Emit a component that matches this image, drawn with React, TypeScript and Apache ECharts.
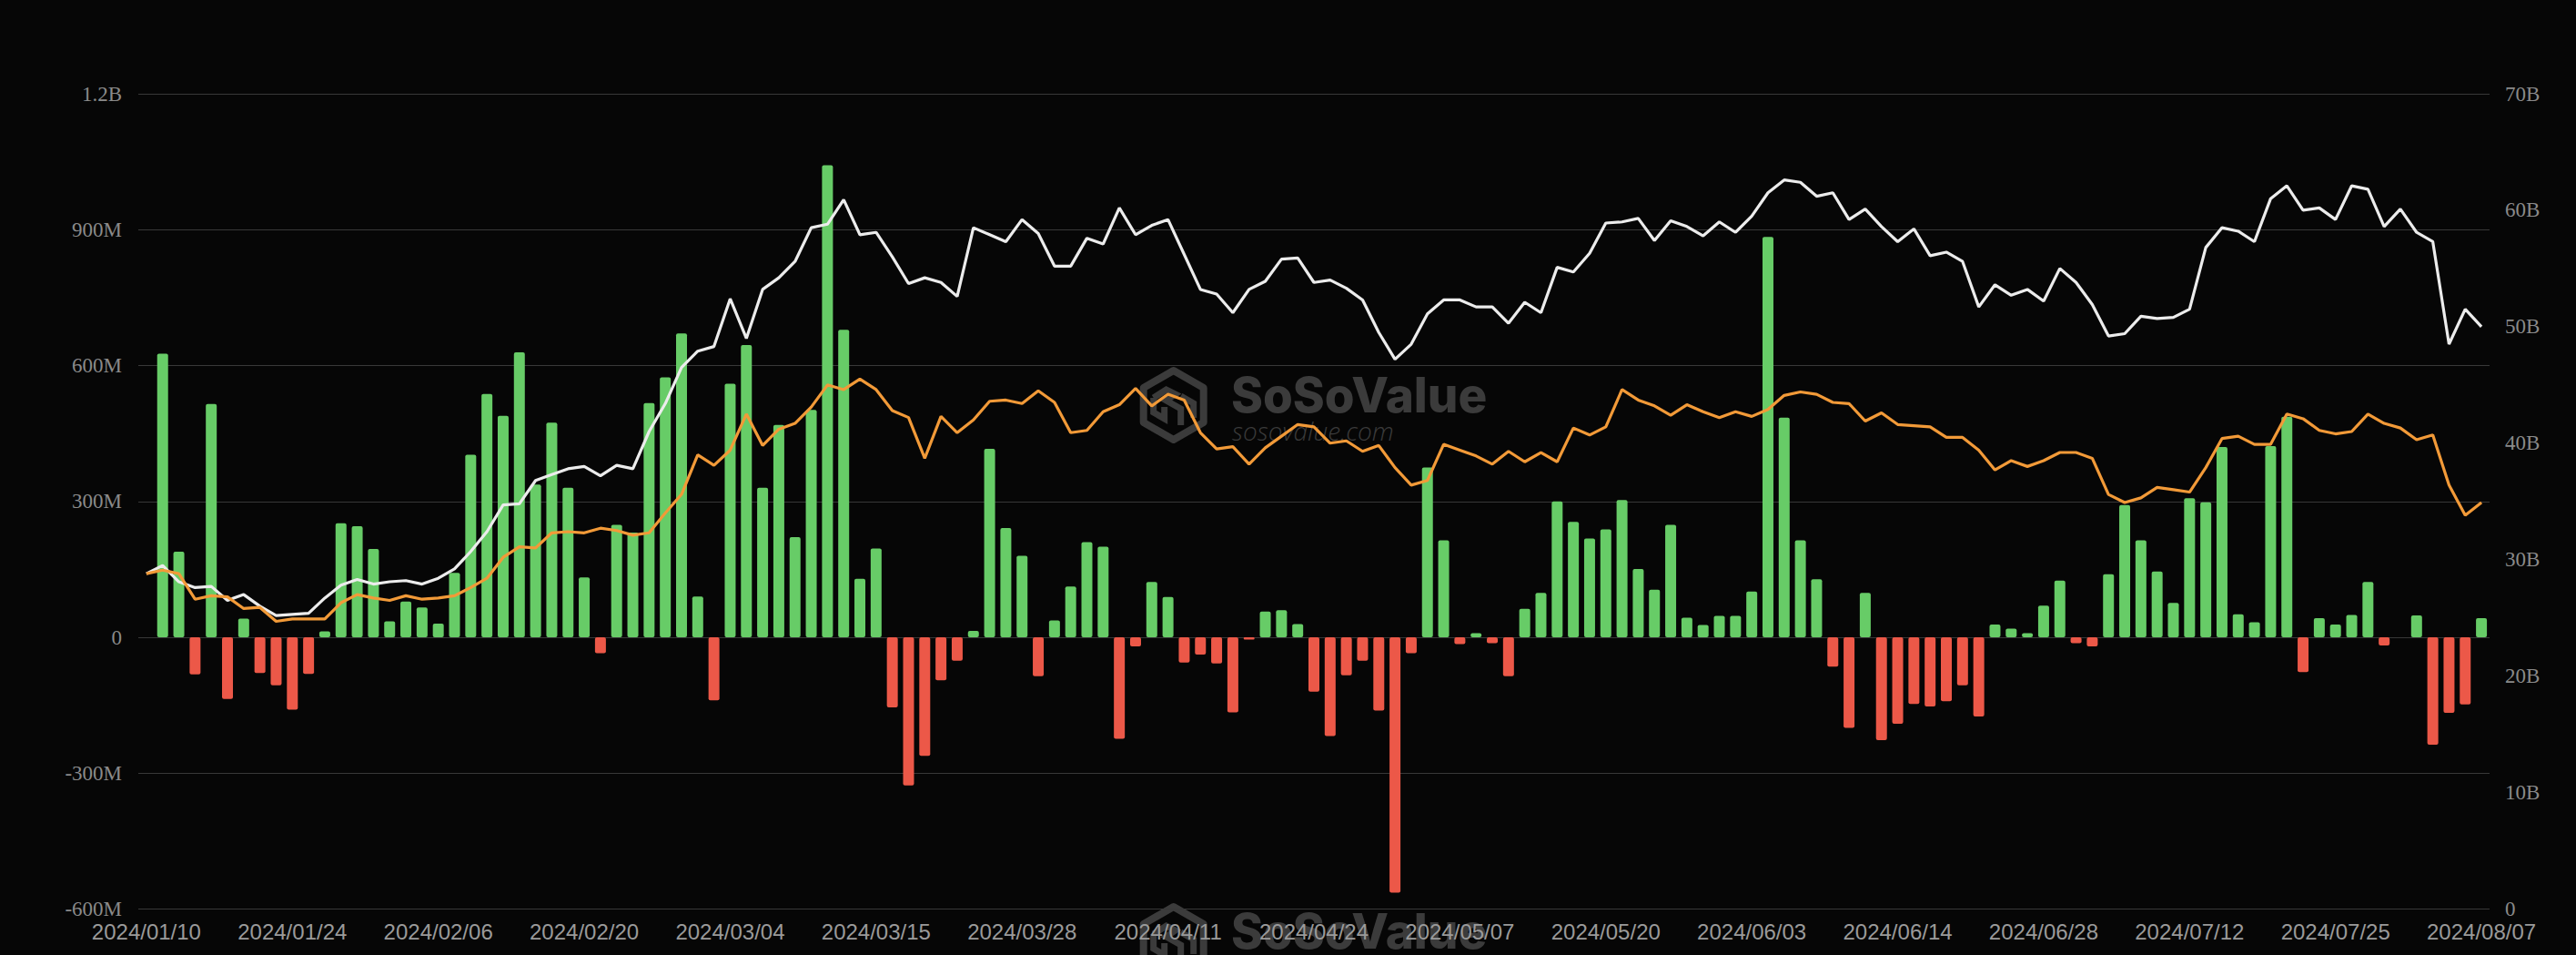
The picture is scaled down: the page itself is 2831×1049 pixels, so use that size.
import React, { useEffect, useRef } from "react";
import * as echarts from "echarts";

const dates: string[] = [
  "2024/01/10", "2024/01/11", "2024/01/12", "2024/01/16", "2024/01/17", "2024/01/18", "2024/01/19", "2024/01/22", "2024/01/23", "2024/01/24",
  "2024/01/25", "2024/01/26", "2024/01/29", "2024/01/30", "2024/01/31",
  "2024/02/01", "2024/02/02", "2024/02/05", "2024/02/06", "2024/02/07", "2024/02/08", "2024/02/09", "2024/02/12", "2024/02/13", "2024/02/14",
  "2024/02/15", "2024/02/16", "2024/02/20", "2024/02/21", "2024/02/22", "2024/02/23", "2024/02/26", "2024/02/27", "2024/02/28", "2024/02/29",
  "2024/03/01", "2024/03/04", "2024/03/05", "2024/03/06", "2024/03/07", "2024/03/08", "2024/03/11", "2024/03/12", "2024/03/13", "2024/03/14",
  "2024/03/15", "2024/03/18", "2024/03/19", "2024/03/20", "2024/03/21", "2024/03/22", "2024/03/25", "2024/03/26", "2024/03/27", "2024/03/28",
  "2024/04/01", "2024/04/02", "2024/04/03", "2024/04/04", "2024/04/05", "2024/04/08", "2024/04/09", "2024/04/10", "2024/04/11", "2024/04/12",
  "2024/04/15", "2024/04/16", "2024/04/17", "2024/04/18", "2024/04/19", "2024/04/22", "2024/04/23", "2024/04/24", "2024/04/25", "2024/04/26",
  "2024/04/29", "2024/04/30",
  "2024/05/01", "2024/05/02", "2024/05/03", "2024/05/06", "2024/05/07", "2024/05/08", "2024/05/09", "2024/05/10", "2024/05/13", "2024/05/14",
  "2024/05/15", "2024/05/16", "2024/05/17", "2024/05/20", "2024/05/21", "2024/05/22", "2024/05/23", "2024/05/24", "2024/05/28", "2024/05/29",
  "2024/05/30", "2024/05/31",
  "2024/06/03", "2024/06/04", "2024/06/05", "2024/06/06", "2024/06/07", "2024/06/10", "2024/06/11", "2024/06/12", "2024/06/13", "2024/06/14",
  "2024/06/17", "2024/06/18", "2024/06/20", "2024/06/21", "2024/06/24", "2024/06/25", "2024/06/26", "2024/06/27", "2024/06/28",
  "2024/07/01", "2024/07/02", "2024/07/03", "2024/07/05", "2024/07/08", "2024/07/09", "2024/07/10", "2024/07/11", "2024/07/12", "2024/07/15",
  "2024/07/16", "2024/07/17", "2024/07/18", "2024/07/19", "2024/07/22", "2024/07/23", "2024/07/24", "2024/07/25", "2024/07/26", "2024/07/29",
  "2024/07/30", "2024/07/31",
  "2024/08/01", "2024/08/02", "2024/08/05", "2024/08/06", "2024/08/07",
];

// Daily total net inflow (millions USD)
const netInflow: (number | null)[] = [
  null, 626, 189, -82, 515, -136, 41, -79, -106, -160,
  -81, 13, 252, 245, 195, 35, 79, 66, 30, 142,
  403, 537, 489, 629, 337, 474, 330, 132, -35, 248,
  231, 517, 574, 671, 90, -139, 560, 645, 330, 469,
  221, 502, 1042, 679, 129, 196, -155, -327, -262, -95,
  -52, 14, 416, 241, 180, -86, 37, 112, 210, 200,
  -224, -20, 122, 89, -56, -38, -58, -166, -5, 57,
  60, 29, -120, -218, -84, -52, -162, -564, -35, 375,
  214, -15, 9, -13, -86, 63, 98, 300, 255, 218,
  238, 303, 151, 105, 248, 43, 27, 47, 47, 101,
  884, 485, 214, 128, -65, -200, 98, -227, -191, -147,
  -153, -141, -106, -175, 28, 19, 9, 70, 125, -13,
  -20, 139, 292, 214, 145, 76, 307, 298, 420, 51,
  33, 422, 487, -77, 42, 28, 49, 122, -18, 0,
  48, -237, -167, -148, 42,
];

// Total net assets (billions USD)
const totalNetAssets: number[] = [
  28.8, 29.5, 28.1, 27.6, 27.7, 26.5, 27.0, 26.0, 25.2, 25.3,
  25.4, 26.7, 27.8, 28.3, 27.9, 28.1, 28.2, 27.9, 28.4, 29.2,
  30.7, 32.4, 34.7, 34.8, 36.8, 37.3, 37.8, 38.0, 37.2, 38.1,
  37.8, 41.0, 43.4, 46.5, 47.9, 48.3, 52.4, 49.0, 53.2, 54.2,
  55.6, 58.5, 58.8, 60.9, 57.9, 58.1, 56.0, 53.7, 54.2, 53.8,
  52.6, 58.5, 57.9, 57.3, 59.2, 58.0, 55.2, 55.2, 57.6, 57.1,
  60.2, 57.9, 58.7, 59.2, 56.2, 53.2, 52.8, 51.2, 53.2, 53.9,
  55.8, 55.9, 53.8, 54.0, 53.3, 52.3, 49.5, 47.2, 48.5, 51.1,
  52.3, 52.3, 51.7, 51.7, 50.3, 52.1, 51.2, 55.1, 54.7, 56.3,
  58.9, 59.0, 59.3, 57.4, 59.1, 58.6, 57.8, 59.0, 58.1, 59.5,
  61.5, 62.6, 62.4, 61.2, 61.5, 59.2, 60.1, 58.6, 57.3, 58.4,
  56.1, 56.4, 55.6, 51.7, 53.6, 52.7, 53.2, 52.2, 55.0, 53.8,
  51.9, 49.2, 49.4, 50.9, 50.7, 50.8, 51.5, 56.8, 58.5, 58.2,
  57.3, 61.0, 62.1, 60.0, 60.2, 59.2, 62.1, 61.8, 58.6, 60.1,
  58.1, 57.3, 48.5, 51.5, 50.0,
];

// Orange line (read on the right-hand scale)
const orangeLine: number[] = [
  28.8, 29.1, 28.8, 26.6, 26.9, 26.8, 25.8, 25.9, 24.7, 24.9,
  24.9, 24.9, 26.3, 27.0, 26.7, 26.5, 26.9, 26.6, 26.7, 26.9,
  27.6, 28.4, 30.2, 31.1, 31.0, 32.3, 32.4, 32.3, 32.7, 32.5,
  32.1, 32.3, 34.0, 35.6, 39.0, 38.1, 39.4, 42.5, 39.8, 41.2,
  41.7, 43.1, 45.0, 44.6, 45.5, 44.6, 42.8, 42.2, 38.7, 42.3,
  40.9, 42.0, 43.6, 43.7, 43.4, 44.5, 43.5, 40.9, 41.1, 42.7,
  43.3, 44.7, 43.2, 44.2, 43.7, 40.9, 39.5, 39.7, 38.2, 39.6,
  40.6, 41.6, 41.4, 40.0, 40.2, 39.3, 39.8, 37.9, 36.4, 36.8,
  39.9, 39.4, 38.9, 38.2, 39.3, 38.4, 39.2, 38.4, 41.3, 40.7,
  41.4, 44.6, 43.7, 43.2, 42.4, 43.3, 42.7, 42.2, 42.7, 42.3,
  42.9, 44.1, 44.4, 44.2, 43.5, 43.4, 41.9, 42.6, 41.6, 41.5,
  41.4, 40.5, 40.5, 39.4, 37.7, 38.5, 38.0, 38.5, 39.2, 39.2,
  38.7, 35.6, 34.9, 35.3, 36.2, 36.0, 35.8, 37.9, 40.4, 40.6,
  39.9, 39.9, 42.5, 42.1, 41.1, 40.8, 41.0, 42.5, 41.7, 41.3,
  40.3, 40.7, 36.4, 33.8, 34.9,
];

const GREEN = "#67cc67";
const RED = "#ec5848";
const WM = "#3b3b3b";

function leftFmt(v: number): string {
  if (v === 0) return "0";
  if (Math.abs(v) >= 1000) return v / 1000 + "B";
  return v + "M";
}
function rightFmt(v: number): string {
  return v === 0 ? "0" : v + "B";
}

function watermark(dy: number) {
  const cx = 1289.7;
  const cy = 445 + dy;
  return [
    {
      type: "polygon",
      z: 0,
      silent: true,
      shape: {
        points: [
          [cx, cy - 38],
          [cx + 33, cy - 19],
          [cx + 33, cy + 19],
          [cx, cy + 38],
          [cx - 33, cy + 19],
          [cx - 33, cy - 19],
        ],
      },
      style: { fill: "none", stroke: WM, lineWidth: 8, lineJoin: "round" },
    },
    {
      type: "polyline",
      z: 0,
      silent: true,
      shape: {
        points: [
          [cx - 22, cy - 8],
          [cx - 8, cy - 17],
          [cx + 2, cy - 12],
          [cx - 8, cy - 5],
          [cx + 8, cy + 4],
          [cx + 8, cy + 22],
        ],
      },
      style: { fill: "none", stroke: WM, lineWidth: 7 },
    },
    {
      type: "polyline",
      z: 0,
      silent: true,
      shape: {
        points: [
          [cx - 22, cy - 8],
          [cx - 22, cy + 8],
          [cx - 10, cy + 15],
          [cx - 10, cy + 2],
        ],
      },
      style: { fill: "none", stroke: WM, lineWidth: 7 },
    },
    {
      type: "polyline",
      z: 0,
      silent: true,
      shape: {
        points: [
          [cx + 8, cy - 10],
          [cx + 22, cy - 2],
          [cx + 22, cy + 14],
        ],
      },
      style: { fill: "none", stroke: WM, lineWidth: 7 },
    },
    {
      type: "text",
      z: 0,
      silent: true,
      x: 1353,
      y: 434 + dy,
      style: {
        text: "SoSoValue",
        fill: WM,
        font: '800 53px "Inter"',
        textAlign: "left",
        textVerticalAlign: "middle",
      },
    },
    {
      type: "text",
      z: 0,
      silent: true,
      x: 1354,
      y: 473 + dy,
      style: {
        text: "sosovalue.com",
        fill: WM,
        font: 'italic 300 28px "Open Sans"',
        textAlign: "left",
        textVerticalAlign: "middle",
      },
    },
  ];
}

export default function App() {
  const ref = useRef<HTMLDivElement>(null);

  useEffect(() => {
    if (!ref.current) return;
    const chart = echarts.init(ref.current, undefined, { renderer: "svg" });
    const option = {
      animation: false,
      backgroundColor: "#060606",
      grid: { left: 152, right: 95, top: 103, bottom: 50.5, containLabel: false },
      graphic: [...watermark(0), ...watermark(589)],
      xAxis: {
        type: "category",
        data: dates,
        boundaryGap: true,
        axisLine: { show: false, onZero: false },
        axisTick: { show: false },
        splitLine: { show: false },
        axisLabel: {
          interval: 8,
          color: "#9a9a9a",
          fontSize: 24,
          fontFamily: "Liberation Sans",
          margin: 13,
        },
      },
      yAxis: [
        {
          type: "value",
          position: "left",
          min: -600,
          max: 1200,
          interval: 300,
          axisLine: { show: false },
          axisTick: { show: false },
          splitLine: { show: true, lineStyle: { color: "#383838", width: 1.2 } },
          axisLabel: {
            formatter: leftFmt,
            color: "#8a8a8a",
            fontSize: 23,
            fontFamily: "Liberation Serif",
            margin: 18,
          },
        },
        {
          type: "value",
          position: "right",
          min: 0,
          max: 70,
          interval: 10,
          axisLine: { show: false },
          axisTick: { show: false },
          splitLine: { show: false },
          axisLabel: {
            formatter: rightFmt,
            color: "#8a8a8a",
            fontSize: 23,
            fontFamily: "Liberation Serif",
            margin: 17,
          },
        },
      ],
      series: [
        {
          name: "Daily Total Net Inflow",
          type: "bar",
          yAxisIndex: 0,
          data: netInflow,
          barWidth: 12,
          z: 2,
          itemStyle: {
            borderRadius: 2,
            color: (p: any) => (p.value >= 0 ? GREEN : RED),
          },
        },
        {
          name: "Total Net Assets",
          type: "line",
          yAxisIndex: 1,
          data: totalNetAssets,
          symbol: "none",
          z: 3,
          lineStyle: { color: "#ececec", width: 3.2 },
        },
        {
          name: "BTC",
          type: "line",
          yAxisIndex: 1,
          data: orangeLine,
          symbol: "none",
          z: 4,
          lineStyle: { color: "#f29a38", width: 3.2 },
        },
      ],
    };
    chart.setOption(option as any);
    return () => chart.dispose();
  }, []);

  return (
    <div
      ref={ref}
      style={{ position: "fixed", left: 0, top: 0, width: 2831, height: 1049 }}
    />
  );
}
